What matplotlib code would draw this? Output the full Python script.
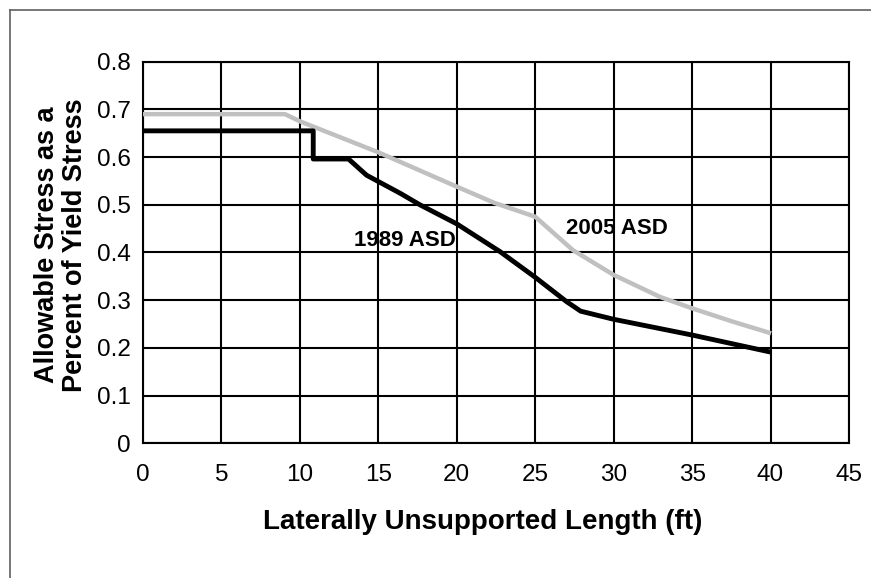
import matplotlib.pyplot as plt
from matplotlib.lines import Line2D

plt.rcParams['font.family'] = ['Liberation Sans', 'DejaVu Sans']

# 1989 ASD (black)
x_1989 = [0, 10.85, 10.85, 13.1, 14.25, 16.4, 17.65, 20.0, 22.75, 25.0, 27.0, 27.9, 30.0, 35.0, 39.9]
y_1989 = [0.655, 0.655, 0.596, 0.596, 0.562, 0.524, 0.500, 0.460, 0.402, 0.348, 0.297, 0.277, 0.260, 0.227, 0.192]

# 2005 ASD (gray)
x_2005 = [0, 9.05, 10.0, 15.0, 20.0, 22.4, 25.0, 27.4, 30.0, 32.95, 35.0, 37.6, 39.9]
y_2005 = [0.69, 0.69, 0.675, 0.61, 0.538, 0.504, 0.475, 0.405, 0.353, 0.307, 0.283, 0.255, 0.232]

x_ticks = [0, 5, 10, 15, 20, 25, 30, 35, 40, 45]
y_ticks = [0, 0.1, 0.2, 0.3, 0.4, 0.5, 0.6, 0.7, 0.8]
y_ticklabels = ['0', '0.1', '0.2', '0.3', '0.4', '0.5', '0.6', '0.7', '0.8']

fig = plt.figure(figsize=(8.71, 5.78), dpi=100)
ax = fig.add_axes([0.1642, 0.2330, 0.9747 - 0.1642, 0.8933 - 0.2330])

ax.plot(x_2005, y_2005, color='#c0c0c0', linewidth=3.2, solid_joinstyle='round', zorder=3)
ax.plot(x_1989, y_1989, color='black', linewidth=3.5, solid_joinstyle='round', zorder=4)

ax.set_xlim(0, 45)
ax.set_ylim(0, 0.8)
ax.set_xticks(x_ticks)
ax.set_yticks(y_ticks)
ax.set_yticklabels(y_ticklabels)
ax.tick_params(length=0, labelsize=17.5)
ax.tick_params(axis='y', pad=9)
ax.tick_params(axis='x', pad=15)
ax.grid(True, color='black', linewidth=1.5)
ax.set_axisbelow(True)
for s in ax.spines.values():
    s.set_linewidth(1.5)

ax.text(16.7, 0.426, '1989 ASD', fontsize=16, fontweight='bold', ha='center', va='center', zorder=5)
ax.text(30.2, 0.451, '2005 ASD', fontsize=16, fontweight='bold', ha='center', va='center', zorder=5)

fig.text(483 / 871, 1 - 522 / 578, 'Laterally Unsupported Length (ft)',
         fontsize=20, fontweight='bold', ha='center', va='center')
fig.text(61 / 871, 1 - 245 / 578, 'Allowable Stress as a\nPercent of Yield Stress',
         fontsize=19.5, fontweight='bold', ha='center', va='center', rotation=90,
         multialignment='center', linespacing=1.05)

# outer frame (left and top edges)
fig.add_artist(Line2D([10 / 871, 10 / 871], [0, 1 - 10 / 578], color='#606060', linewidth=1.2))
fig.add_artist(Line2D([10 / 871, 1], [1 - 10 / 578, 1 - 10 / 578], color='#606060', linewidth=1.2))

fig.savefig('out.png', dpi=100)
